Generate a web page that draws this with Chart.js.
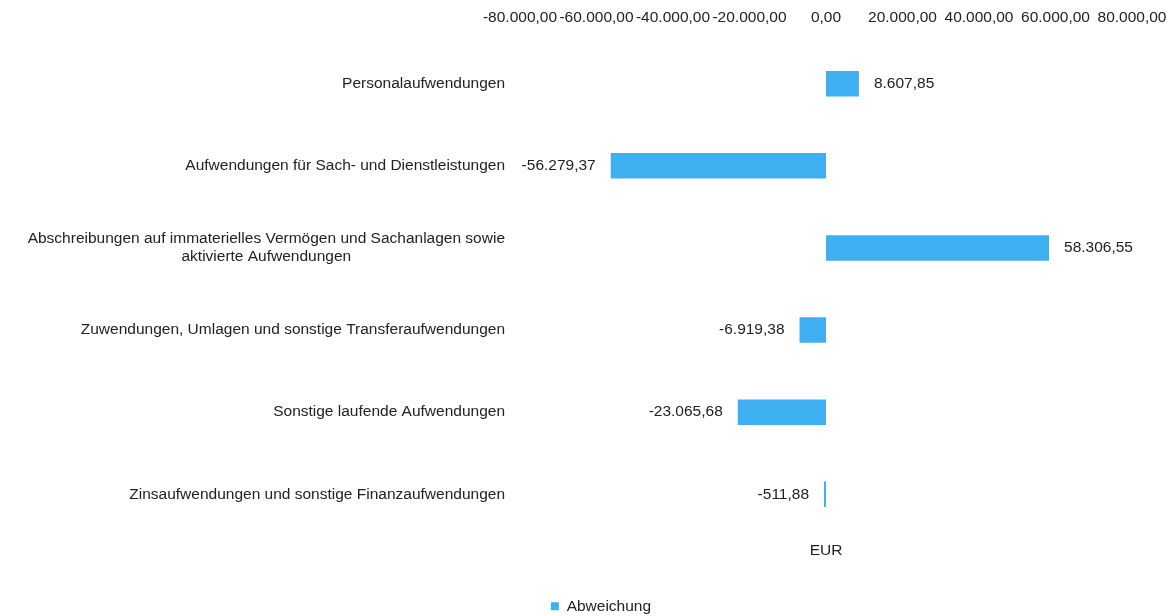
<!DOCTYPE html>
<html>
<head>
<meta charset="utf-8">
<script src="https://cdn.jsdelivr.net/npm/chart.js@4"></script>
<style>
html,body{margin:0;padding:0;background:#fff;}
#wrap{width:1170px;height:616px;}
</style>
</head>
<body>
<div id="wrap"><canvas id="c" width="1170" height="616"></canvas></div>
<script>
const categories = [
  "Personalaufwendungen",
  "Aufwendungen für Sach- und Dienstleistungen",
  ["Abschreibungen auf immaterielles Vermögen und Sachanlagen sowie", "aktivierte Aufwendungen"],
  "Zuwendungen, Umlagen und sonstige Transferaufwendungen",
  "Sonstige laufende Aufwendungen",
  "Zinsaufwendungen und sonstige Finanzaufwendungen"
];
const abweichung = [8607.85, -56279.37, 58306.55, -6919.38, -23065.68, -511.88];
const xTicks = [-80000, -60000, -40000, -20000, 0, 20000, 40000, 60000, 80000];
const seriesName = "Abweichung";
const axisTitle = "EUR";

const FONT = "'Liberation Sans', Arial, sans-serif";
const FS = 15.5;
const TXT = '#222222';
const BAR = '#3eaff0';

function fmt(v) {
  const neg = v < 0;
  const s = Math.abs(v).toFixed(2);
  let [i, d] = s.split('.');
  i = i.replace(/\B(?=(\d{3})+(?!\d))/g, '.');
  return (neg ? '-' : '') + i + ',' + d;
}

const catLabelPlugin = {
  id: 'catLabels',
  afterDraw(chart) {
    const ctx = chart.ctx;
    const y = chart.scales.y;
    const right = chart.chartArea.left - 15;
    ctx.save();
    ctx.font = FS + 'px ' + FONT;
    ctx.fillStyle = TXT;
    ctx.textBaseline = 'middle';
    chart.data.labels.forEach((lab, i) => {
      const cy = y.getPixelForValue(i);
      if (Array.isArray(lab)) {
        const lh = 18.5;
        const w = Math.max(...lab.map(l => ctx.measureText(l).width));
        const cx = right - w / 2;
        ctx.textAlign = 'center';
        lab.forEach((l, k) => {
          ctx.fillText(l, cx, cy + (k - (lab.length - 1) / 2) * lh);
        });
      } else {
        ctx.textAlign = 'right';
        ctx.fillText(lab, right, cy);
      }
    });
    ctx.restore();
  }
};

const valueLabelPlugin = {
  id: 'valueLabels',
  afterDatasetsDraw(chart) {
    const ctx = chart.ctx;
    const meta = chart.getDatasetMeta(0);
    const data = chart.data.datasets[0].data;
    ctx.save();
    ctx.font = FS + 'px ' + FONT;
    ctx.fillStyle = TXT;
    ctx.textBaseline = 'middle';
    meta.data.forEach((el, i) => {
      const v = data[i];
      if (v >= 0) {
        ctx.textAlign = 'left';
        ctx.fillText(fmt(v), el.x + 15, el.y);
      } else {
        ctx.textAlign = 'right';
        ctx.fillText(fmt(v), el.x - 15, el.y);
      }
    });
    ctx.restore();
  }
};

new Chart(document.getElementById('c'), {
  type: 'bar',
  data: {
    labels: categories,
    datasets: [{
      label: seriesName,
      data: abweichung,
      backgroundColor: BAR,
      borderWidth: 0,
      categoryPercentage: 1,
      barPercentage: 0.31
    }]
  },
  options: {
    indexAxis: 'y',
    responsive: false,
    animation: false,
    devicePixelRatio: 1,
    layout: { padding: { left: 32, top: 8, right: 0, bottom: -8 } },
    scales: {
      x: {
        position: 'top',
        min: -80000,
        max: 80000,
        afterBuildTicks(scale) { scale.ticks = xTicks.map(v => ({ value: v })); },
        afterFit(s) { s.height = 34.6; s.paddingLeft = 0; s.paddingRight = 0; },
        ticks: {
          color: TXT,
          font: { family: FONT, size: FS },
          padding: 16,
          maxRotation: 0,
          autoSkip: false,
          callback: v => fmt(v)
        },
        grid: { display: false, drawTicks: false },
        border: { display: false }
      },
      x2: {
        type: 'linear',
        position: 'bottom',
        display: true,
        ticks: { display: false },
        grid: { display: false, drawTicks: false },
        border: { display: false },
        title: {
          display: true,
          text: axisTitle,
          color: TXT,
          font: { family: FONT, size: FS },
          padding: { top: 6.5, bottom: 34 }
        }
      },
      y: {
        ticks: { display: false },
        grid: { display: false, drawTicks: false },
        border: { display: false },
        afterFit(s) { s.width = 488; }
      },
      yr: {
        type: 'linear',
        position: 'right',
        display: true,
        ticks: { display: false },
        grid: { display: false, drawTicks: false },
        border: { display: false },
        afterFit(s) { s.width = 38; }
      }
    },
    plugins: {
      legend: {
        position: 'bottom',
        labels: {
          boxWidth: 8,
          boxHeight: 8,
          padding: 4,
          color: TXT,
          font: { family: FONT, size: FS }
        }
      },
      tooltip: { enabled: false }
    }
  },
  plugins: [catLabelPlugin, valueLabelPlugin]
});
</script>
</body>
</html>
